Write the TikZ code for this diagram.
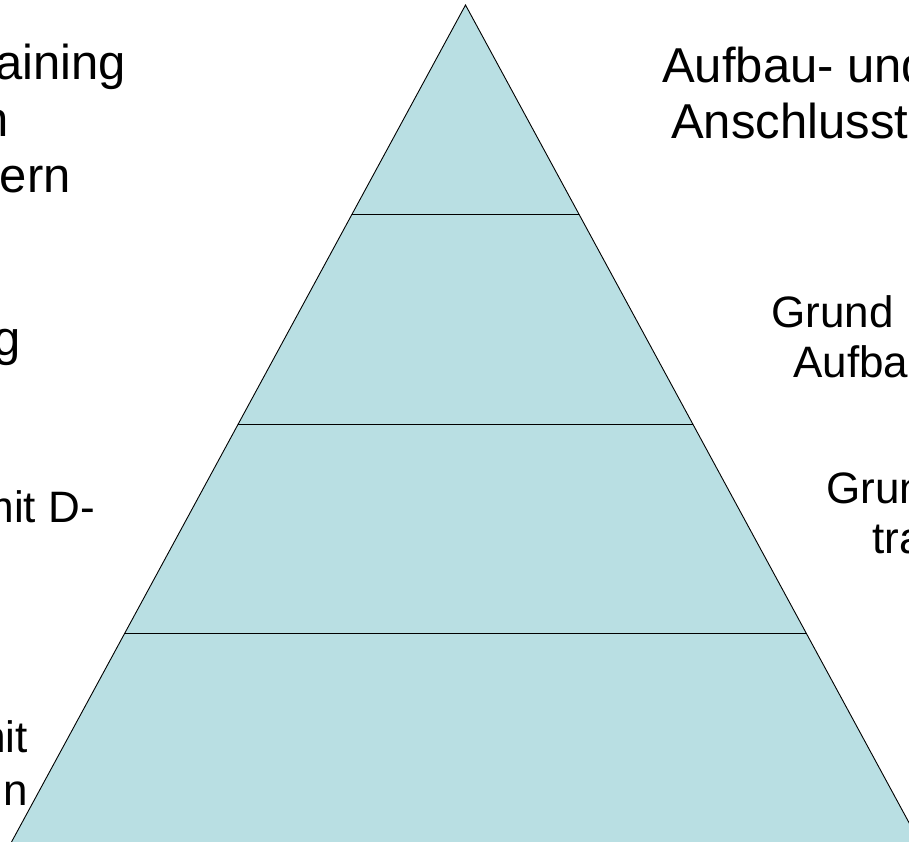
\documentclass[tikz,border=0pt]{standalone}
\usepackage{fontspec}
\setmainfont{Liberation Sans}
\definecolor{pyrfill}{RGB}{185,223,227}
\tikzset{
  band/.style={draw=black, line width=0.9pt},
  lblbig/.style={inner sep=0pt, font=\fontsize{49}{56}\selectfont},
  lblsmall/.style={inner sep=0pt, font=\fontsize{44}{50}\selectfont},
}
\begin{document}
\begin{tikzpicture}[x=1pt,y=-1pt]
\useasboundingbox (0,0) rectangle (909,842);
\clip (0,0) rectangle (909,842);
% pyramid corners
\coordinate (apex) at (465.5,5);
\coordinate (bl) at ({465.5-0.5424*845},850);
\coordinate (br) at ({465.5+0.5424*845},850);
\fill[pyrfill] (apex) -- (bl) -- (br) -- cycle;
\draw[band, line join=miter] (bl) -- (apex) -- (br);
% band separators
\coordinate (l1) at ({465.5-0.5424*209},214);
\coordinate (r1) at ({465.5+0.5424*209},214);
\coordinate (l2) at ({465.5-0.5424*419},424);
\coordinate (r2) at ({465.5+0.5424*419},424);
\coordinate (l3) at ({465.5-0.5424*628},633);
\coordinate (r3) at ({465.5+0.5424*628},633);
\draw[band] (l1) -- (r1);
\draw[band] (l2) -- (r2);
\draw[band] (l3) -- (r3);
% right texts
\node[lblbig, anchor=base west] (r1a) at (662,83) {Aufbau- und};
\node[lblbig, anchor=base west] (r1b) at (671,139) {Anschlusst};
\node[lblsmall, anchor=base west] (r2a) at (771,327) {Grund};
\node[lblsmall, anchor=base west] (r2b) at (793,377) {Aufba};
\node[lblsmall, anchor=base west] (r3a) at (826,503) {Grun};
\node[lblsmall, anchor=base west] (r3b) at (872,553) {tra};
% left texts
\node[lblbig, anchor=base east] (l1a) at (126,80) {aining};
\node[lblbig, anchor=base east] (l1b) at (8.5,137) {n};
\node[lblbig, anchor=base east] (l1c) at (71,193) {ern};
\node[lblbig, anchor=base east] (l2a) at (21,355) {g};
\node[lblsmall, anchor=base east] (l3a) at (95,522) {mit D-};
\node[lblsmall, anchor=base east] (l4a) at (28,752) {mit};
\node[lblsmall, anchor=base east] (l4b) at (28,805) {n};
\end{tikzpicture}
\end{document}
